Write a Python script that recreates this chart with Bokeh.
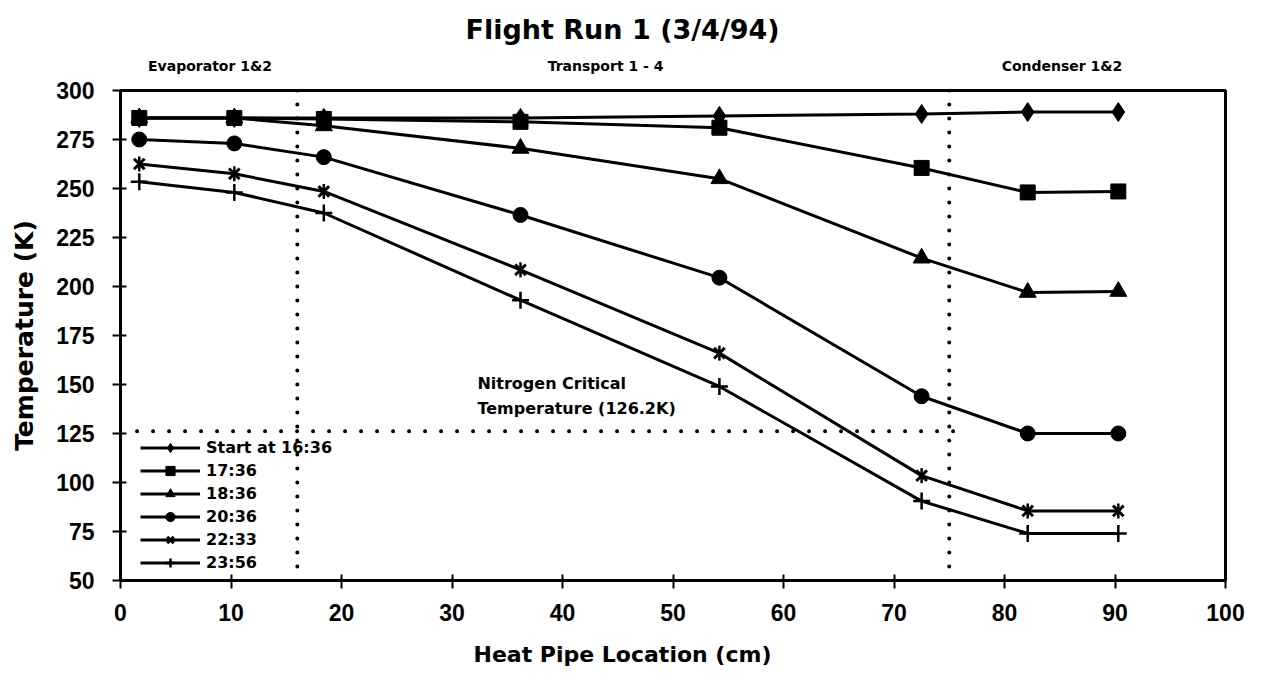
import math
from bokeh.plotting import figure
from bokeh.models import Span, Label, Legend, LegendItem, Range1d, FixedTicker, LinearAxis, Title
from bokeh.embed import file_html
from bokeh.resources import INLINE

# ---------------- data ----------------
location_cm = [1.7, 10.3, 18.4, 36.2, 54.2, 72.5, 82.1, 90.3]
start_1636 = [286, 286, 286, 286, 287, 288, 289, 289]
run_1736 = [286, 286, 285.5, 284, 281, 260.5, 248, 248.5]
run_1836 = [286, 286, 282, 270.5, 255, 214.5, 197, 197.5]
run_2036 = [275, 273, 266, 236.5, 204.5, 144, 125, 125]
run_2233 = [262.5, 257.5, 248.5, 208.5, 166, 103.5, 85.5, 85.5]
run_2356 = [253.5, 248, 237.5, 193, 149, 90.5, 74, 74]
series_labels = ["Start at 16:36", "17:36", "18:36", "20:36", "22:33", "23:56"]
x_ticks = list(range(0, 101, 10))
y_ticks = list(range(50, 301, 25))
nitrogen_critical_K = 126.2
nitrogen_line_x = [1.5, 76.3]
region_bounds_cm = [16, 75]
section_names = ["Evaporator 1&2", "Transport 1 - 4", "Condenser 1&2"]
section_centers_cm = [8.1, 43.9, 85.2]

HEAD = "DejaVu Sans"
TICKF = "Liberation Sans"

p = figure(width=1246, height=688, output_backend="svg", toolbar_location=None,
           x_range=Range1d(0, 100), y_range=Range1d(50, 300),
           min_border_left=120, min_border_right=21, min_border_top=90, min_border_bottom=108)
p.background_fill_color = "white"
p.border_fill_color = "white"
p.outline_line_color = "black"
p.outline_line_width = 3
p.xgrid.visible = False
p.ygrid.visible = False

xa = p.below[0]
ya = p.left[0]

# title (left-aligned with an offset so it is centred like the reference)
p.title.text = "Flight Run 1 (3/4/94)"
p.title.text_font = HEAD
p.title.text_font_style = "bold"
p.title.text_font_size = "27px"
p.title.text_color = "black"
p.title.align = "left"
p.title.offset = 345
p.title.standoff = 20

# section headers as an axis above the plot
sec_axis = LinearAxis(ticker=FixedTicker(ticks=section_centers_cm),
                      major_label_overrides={c: n for c, n in zip(section_centers_cm, section_names)})
sec_axis.axis_line_color = None
sec_axis.major_tick_line_color = None
sec_axis.minor_tick_line_color = None
sec_axis.major_tick_out = 0
sec_axis.major_tick_in = 0
sec_axis.major_label_standoff = 17
sec_axis.major_label_text_font = HEAD
sec_axis.major_label_text_font_style = "bold"
sec_axis.major_label_text_font_size = "14px"
sec_axis.major_label_text_color = "black"
p.add_layout(sec_axis, "above")

# main axes
xa.ticker = FixedTicker(ticks=x_ticks)
ya.ticker = FixedTicker(ticks=y_ticks)
for ax in (xa, ya):
    ax.axis_line_color = "black"
    ax.axis_line_width = 3
    ax.major_tick_line_color = "black"
    ax.major_tick_line_width = 2
    ax.minor_tick_line_color = None
    ax.major_label_text_font = TICKF
    ax.major_label_text_font_style = "bold"
    ax.major_label_text_font_size = "23px"
    ax.major_label_text_color = "black"
xa.major_tick_out = 8
xa.major_tick_in = 6
xa.major_label_standoff = 15
ya.major_tick_out = 8
ya.major_tick_in = 6
ya.major_label_standoff = 18
ya.axis_label = "Temperature (K)"
ya.axis_label_text_font = HEAD
ya.axis_label_text_font_style = "bold"
ya.axis_label_text_font_size = "25px"
ya.axis_label_text_color = "black"
ya.axis_label_standoff = 14

# x-axis title placed as a title below (offset so it is centred like the reference)
p.add_layout(Title(text="Heat Pipe Location (cm)", align="left", offset=339, standoff=4,
                   padding=14,
                   text_font=HEAD, text_font_style="bold", text_font_size="22px",
                   text_color="black"), "below")

# reference lines
for xb in region_bounds_cm:
    p.add_layout(Span(location=xb, dimension="height", line_color="black", line_width=4,
                      line_dash="0 14", line_cap="round"))
p.line(nitrogen_line_x, [nitrogen_critical_K] * 2, line_color="black", line_width=4,
       line_dash="0 16", line_cap="round")

LW = 3
r_start_l = p.line(location_cm, start_1636, line_color="black", line_width=LW)
r_start_m = p.scatter(location_cm, start_1636, marker="diamond", size=19,
                      fill_color="black", line_color="black")
r_1836_l = p.line(location_cm, run_1836, line_color="black", line_width=LW)
r_1836_m = p.scatter(location_cm, run_1836, marker="triangle", size=17,
                     fill_color="black", line_color="black")
r_1736_l = p.line(location_cm, run_1736, line_color="black", line_width=LW)
r_1736_m = p.scatter(location_cm, run_1736, marker="square", size=15,
                     fill_color="black", line_color="black")
r_2036_l = p.line(location_cm, run_2036, line_color="black", line_width=LW)
r_2036_m = p.scatter(location_cm, run_2036, marker="circle", size=15,
                     fill_color="black", line_color="black")
r_2233_l = p.line(location_cm, run_2233, line_color="black", line_width=LW)
r_2233_m = p.scatter(location_cm, run_2233, marker="x", size=15, line_color="black", line_width=3)
r_2233_v = p.scatter(location_cm, run_2233, marker="dash", angle=math.pi / 2, size=15,
                     line_color="black", line_width=2.5)
r_2356_l = p.line(location_cm, run_2356, line_color="black", line_width=LW)
r_2356_m = p.scatter(location_cm, run_2356, marker="cross", size=17, line_color="black", line_width=2.5)

items = [
    LegendItem(label=series_labels[0], renderers=[r_start_l, r_start_m]),
    LegendItem(label=series_labels[1], renderers=[r_1736_l, r_1736_m]),
    LegendItem(label=series_labels[2], renderers=[r_1836_l, r_1836_m]),
    LegendItem(label=series_labels[3], renderers=[r_2036_l, r_2036_m]),
    LegendItem(label=series_labels[4], renderers=[r_2233_l, r_2233_m, r_2233_v]),
    LegendItem(label=series_labels[5], renderers=[r_2356_l, r_2356_m]),
]
legend = Legend(items=items, location=(20, 6), padding=0, margin=0, spacing=0,
                glyph_width=60, glyph_height=23, label_height=23, label_standoff=6,
                background_fill_alpha=0, border_line_alpha=0,
                label_text_font=HEAD, label_text_font_style="bold",
                label_text_font_size="16px", label_text_color="black")
p.add_layout(legend, "center")

# nitrogen note (inside the plot area)
for yv, txt in [(150.5, "Nitrogen Critical"), (137.8, "Temperature (126.2K)")]:
    p.add_layout(Label(x=32.3, y=yv, text=txt, text_font=HEAD, text_font_style="bold",
                       text_font_size="16px", text_color="black", text_align="left",
                       text_baseline="middle"))

open("out.html", "w").write(file_html(p, INLINE))
